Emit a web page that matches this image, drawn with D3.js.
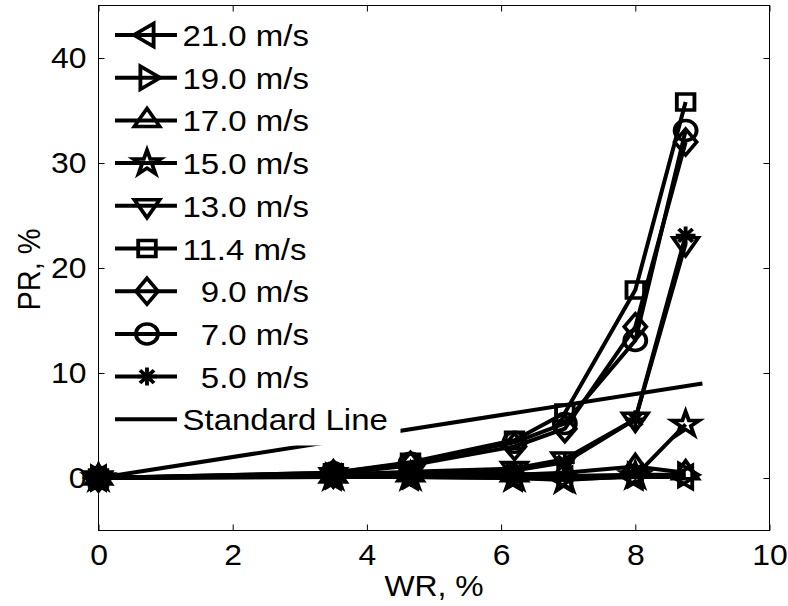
<!DOCTYPE html>
<html>
<head>
<meta charset="utf-8">
<script src="https://cdn.jsdelivr.net/npm/d3@7"></script>
<style>
  body { margin: 0; background: #fff; }
  text { font-family: "Liberation Sans", Arial, sans-serif; fill: #000; }
</style>
</head>
<body>
<div id="vis"></div>
<script>
const FRAME_WIDTH = 788;
const FRAME_HEIGHT = 606;
const MARGINS = {left: 98.5, right: 18.5, top: 5.5, bottom: 75.5};
const VIS_WIDTH = FRAME_WIDTH - MARGINS.left - MARGINS.right;
const VIS_HEIGHT = FRAME_HEIGHT - MARGINS.top - MARGINS.bottom;
const SX = 1.1; // the original figure is stretched a little sideways

// data
const wr = [0, 3.5, 4.65, 6.2, 6.95, 8.0, 8.75];
const speeds = ["21.0 m/s", "19.0 m/s", "17.0 m/s", "15.0 m/s", "13.0 m/s",
                "11.4 m/s", "  9.0 m/s", "  7.0 m/s", "  5.0 m/s"];
const symbols = ["left", "right", "up", "star", "down", "square", "diamond", "circle", "asterisk"];
const pr21 = [0, 0.1, 0.1, 0.0, -0.1, 0.1, 0.1];
const pr19 = [0, 0.2, 0.2, 0.2, 0.2, 0.3, 0.3];
const pr17 = [0, 0.2, 0.3, 0.3, 0.5, 1.1, 0.5];
const pr15 = [0, 0.1, 0.1, 0.0, -0.2, 0.2, 5.1];
const pr13 = [0, 0.3, 0.6, 0.9, 1.8, 5.6, 22.3];
const pr11 = [0, 0.5, 1.5, 3.6, 6.2, 17.9, 35.8];
const pr9  = [0, 0.4, 1.2, 3.0, 4.7, 14.4, 32.0];
const pr7  = [0, 0.5, 1.4, 3.4, 5.2, 13.1, 33.1];
const pr5  = [0, 0.3, 0.5, 0.7, 1.5, 5.6, 23.1];
const allPr = [pr21, pr19, pr17, pr15, pr13, pr11, pr9, pr7, pr5];
const stdX = [0, 9];
const stdY = [0, 9];
const xTicks = [0, 2, 4, 6, 8, 10];
const yTicks = [0, 10, 20, 30, 40];

const FRAME = d3.select("#vis")
    .append("svg")
        .attr("width", FRAME_WIDTH)
        .attr("height", FRAME_HEIGHT);

const X_SCALE = d3.scaleLinear().domain([0, 10]).range([0, VIS_WIDTH]);
const Y_SCALE = d3.scaleLinear().domain([-5, 45]).range([VIS_HEIGHT, 0]);

const G = FRAME.append("g")
    .attr("transform", "translate(" + MARGINS.left + "," + MARGINS.top + ")");

// marker shapes, drawn round 0,0 (hollow, like matlab)
function markerPath(sym) {
  const p = d3.path();
  if (sym === "left")  { p.moveTo(-12, 0); p.lineTo(6, -11.5); p.lineTo(6, 11.5); p.closePath(); }
  if (sym === "right") { p.moveTo(12, 0); p.lineTo(-6, -11.5); p.lineTo(-6, 11.5); p.closePath(); }
  if (sym === "up")    { p.moveTo(0, -12); p.lineTo(11.5, 6); p.lineTo(-11.5, 6); p.closePath(); }
  if (sym === "down")  { p.moveTo(0, 12); p.lineTo(11.5, -6); p.lineTo(-11.5, -6); p.closePath(); }
  if (sym === "square") { p.rect(-8, -8, 16, 16); }
  if (sym === "diamond") { p.moveTo(0, -13); p.lineTo(10, 0); p.lineTo(0, 13); p.lineTo(-10, 0); p.closePath(); }
  if (sym === "circle") { p.moveTo(10, 0); p.arc(0, 0, 10, 0, 2 * Math.PI); }
  if (sym === "star") {
    for (let i = 0; i < 10; i++) {
      const r = i % 2 === 0 ? 13 : 5;
      const a = -Math.PI / 2 + i * Math.PI / 5;
      if (i === 0) p.moveTo(r * Math.cos(a), r * Math.sin(a));
      else p.lineTo(r * Math.cos(a), r * Math.sin(a));
    }
    p.closePath();
  }
  if (sym === "asterisk") {
    p.moveTo(0, -9); p.lineTo(0, 9);
    p.moveTo(-9, 0); p.lineTo(9, 0);
    p.moveTo(-6.4, -6.4); p.lineTo(6.4, 6.4);
    p.moveTo(-6.4, 6.4); p.lineTo(6.4, -6.4);
  }
  return p.toString();
}

function addMarker(sel, sym, x, y) {
  sel.append("path")
      .attr("d", markerPath(sym))
      .attr("transform", "translate(" + x + "," + y + ") scale(" + SX + ",1)")
      .attr("fill", "none")
      .attr("stroke", "#000")
      .attr("stroke-width", 3.5)
      .attr("stroke-linejoin", "miter");
}

// standard line
const line = d3.line().x((d) => X_SCALE(d[0])).y((d) => Y_SCALE(d[1]));
G.append("path")
    .datum(stdX.map((d, i) => [d, stdY[i]]))
    .attr("d", line)
    .attr("fill", "none")
    .attr("stroke", "#000")
    .attr("stroke-width", 4);

// series lines + markers
allPr.forEach((vals, k) => {
  const pts = wr.map((d, i) => [d, vals[i]]);
  G.append("path")
      .datum(pts)
      .attr("d", line)
      .attr("fill", "none")
      .attr("stroke", "#000")
      .attr("stroke-width", 4)
      .attr("stroke-linejoin", "round");
  pts.forEach((d) => addMarker(G, symbols[k], X_SCALE(d[0]), Y_SCALE(d[1])));
});

// legend (white box, no border)
const LEG = G.append("g");
LEG.append("rect")
    .attr("x", 2).attr("y", 4)
    .attr("width", 300).attr("height", 436)
    .attr("fill", "#fff");
const legLabels = speeds.concat(["Standard Line"]);
legLabels.forEach((lab, i) => {
  const y = 29.5 + i * 42.7;
  LEG.append("line")
      .attr("x1", 16.5).attr("x2", 78.5)
      .attr("y1", y).attr("y2", y)
      .attr("stroke", "#000").attr("stroke-width", 4);
  if (i < symbols.length) addMarker(LEG, symbols[i], 48.5, y);
  LEG.append("text")
      .attr("transform", "translate(84," + (y + 11) + ") scale(" + SX + ",1)")
      .attr("font-size", "30px")
      .style("white-space", "pre")
      .text(lab);
});

// axes box + ticks (inward, on all four sides)
G.append("rect")
    .attr("width", VIS_WIDTH).attr("height", VIS_HEIGHT)
    .attr("fill", "none").attr("stroke", "#000").attr("stroke-width", 1);

const X_AXIS = G.append("g")
    .attr("transform", "translate(0," + VIS_HEIGHT + ")")
    .call(d3.axisBottom(X_SCALE).tickValues(xTicks).tickSize(-6).tickPadding(14));
const X_TOP = G.append("g")
    .call(d3.axisTop(X_SCALE).tickValues(xTicks).tickSize(-6).tickFormat(""));
const Y_AXIS = G.append("g")
    .call(d3.axisLeft(Y_SCALE).tickValues(yTicks).tickSize(-6).tickPadding(12));
const Y_RIGHT = G.append("g")
    .attr("transform", "translate(" + VIS_WIDTH + ",0)")
    .call(d3.axisRight(Y_SCALE).tickValues(yTicks).tickSize(-6).tickFormat(""));
[X_AXIS, X_TOP, Y_AXIS, Y_RIGHT].forEach((a) => {
  a.select(".domain").remove();
  a.selectAll(".tick line").attr("stroke", "#000");
  a.selectAll("text")
      .attr("font-size", "29px")
      .attr("font-family", "Liberation Sans, Arial, sans-serif")
      .attr("fill", "#000");
});
X_AXIS.selectAll("text").attr("transform", "scale(" + SX + ",1)")
    .attr("x", 0);
Y_AXIS.selectAll("text").attr("transform", "translate(-12,0) scale(" + SX + ",1)")
    .attr("x", 0);

// axis labels
FRAME.append("text")
    .attr("transform", "translate(" + (MARGINS.left + VIS_WIDTH / 2) + ",596) scale(" + SX + ",1)")
    .attr("text-anchor", "middle")
    .attr("font-size", "29px")
    .text("WR, %");
FRAME.append("text")
    .attr("transform", "translate(40," + (MARGINS.top + 264) + ") rotate(-90) scale(1," + SX + ")")
    .attr("text-anchor", "middle")
    .attr("font-size", "29px")
    .text("PR, %");
</script>
</body>
</html>
